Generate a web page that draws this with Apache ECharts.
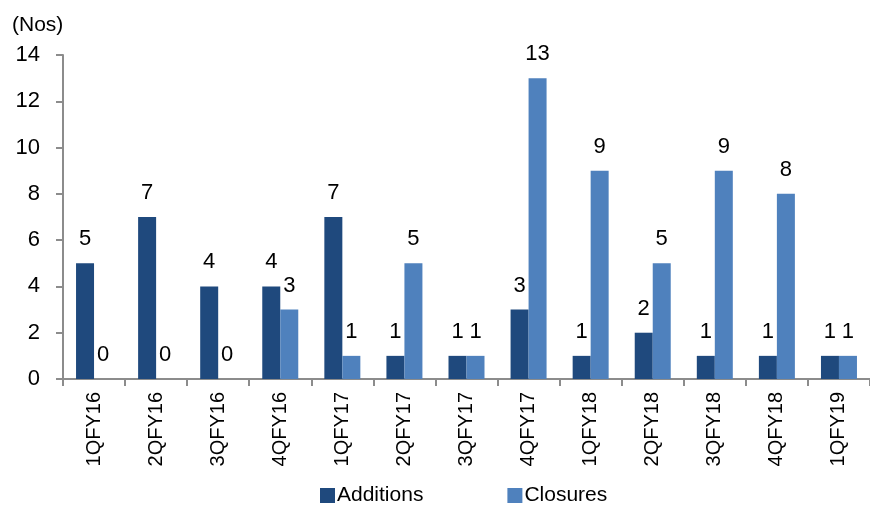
<!DOCTYPE html>
<html>
<head>
<meta charset="utf-8">
<script src="https://cdn.jsdelivr.net/npm/echarts@6/dist/echarts.min.js"></script>
<style>
  html, body { margin: 0; padding: 0; background: #fff; }
  #chart { width: 870px; height: 508px; }
</style>
</head>
<body>
<div id="chart"></div>
<script>
// Quarterly additions and closures (count)
const quarters = ['1QFY16', '2QFY16', '3QFY16', '4QFY16', '1QFY17', '2QFY17', '3QFY17',
                  '4QFY17', '1QFY18', '2QFY18', '3QFY18', '4QFY18', '1QFY19'];
const additions = [5, 7, 4, 4, 7, 1, 1, 3, 1, 2, 1, 1, 1];
const closures  = [0, 0, 0, 3, 1, 5, 1, 13, 9, 5, 9, 8, 1];
const yTicks = [0, 2, 4, 6, 8, 10, 12, 14];

const FONT = 'Liberation Sans, Arial, sans-serif';
const chart = echarts.init(document.getElementById('chart'), null, { renderer: 'canvas' });

const labelStyle = {
  show: true,
  position: 'top',
  distance: 13,
  color: '#000',
  fontFamily: FONT,
  fontSize: 22
};

chart.setOption({
  animation: false,
  textStyle: { fontFamily: FONT },
  title: {
    text: '(Nos)',
    left: 12,
    top: 15,
    padding: 0,
    textStyle: { fontFamily: FONT, fontSize: 21, fontWeight: 'normal', color: '#000' }
  },
  legend: {
    top: 485,
    left: 320,
    padding: 0,
    itemGap: 84,
    itemWidth: 15,
    itemHeight: 15,
    icon: 'rect',
    textStyle: { fontFamily: FONT, fontSize: 21, color: '#000', padding: [0, 0, 0, -3] },
    data: ['Additions', 'Closures']
  },
  grid: { left: 63, top: 55, width: 811, height: 324, containLabel: false },
  xAxis: {
    type: 'category',
    data: quarters,
    axisLine: { lineStyle: { color: '#8c8c8c', width: 2 } },
    axisTick: { show: true, length: 7, lineStyle: { color: '#8c8c8c', width: 2 } },
    axisLabel: {
      rotate: 90,
      margin: 13,
      color: '#000',
      fontFamily: FONT,
      fontSize: 20
    }
  },
  yAxis: {
    type: 'value',
    min: yTicks[0],
    max: yTicks[yTicks.length - 1],
    interval: 2,
    splitLine: { show: false },
    axisLine: { show: true, lineStyle: { color: '#8c8c8c', width: 2 } },
    axisTick: { show: true, length: 7, lineStyle: { color: '#8c8c8c', width: 2 } },
    axisLabel: {
      margin: 23,
      color: '#000',
      fontFamily: FONT,
      fontSize: 22
    }
  },
  series: [
    {
      name: 'Additions',
      type: 'bar',
      data: additions,
      barWidth: 18,
      barGap: '0%',
      itemStyle: { color: '#1f497d' },
      label: labelStyle
    },
    {
      name: 'Closures',
      type: 'bar',
      data: closures,
      barWidth: 18,
      itemStyle: { color: '#4f81bd' },
      label: labelStyle
    }
  ]
});
</script>
</body>
</html>
